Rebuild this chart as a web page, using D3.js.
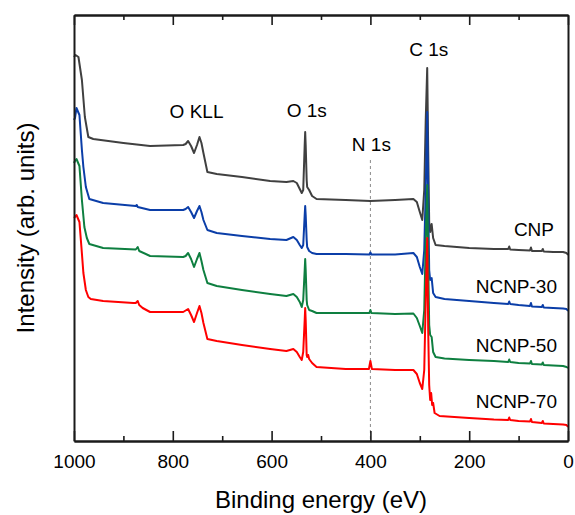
<!DOCTYPE html>
<html><head><meta charset="utf-8">
<script src="https://cdn.jsdelivr.net/npm/d3@7"></script>
<style>
body{margin:0;background:#fff}
svg{display:block}
text{font-family:"Liberation Sans",Arial,sans-serif;fill:#000}
</style>
</head><body>
<svg id="c" width="575" height="515"></svg>
<script>
// ---- data (binding energy eV, intensity arb. units) ----
const majorTicks = [1000, 800, 600, 400, 200, 0];
const minorTicks = [900, 700, 500, 300, 100];
const seriesNames = ["CNP", "NCNP-30", "NCNP-50", "NCNP-70"];
const seriesColors = ["#404040", "#0b3ea8", "#0e7f40", "#ff0000"];
const peakLabels = ["O KLL", "O 1s", "N 1s", "C 1s"];
const peakEnergies = [755, 532, 400, 285];

const cnp = [[1000,384],[997,386],[991,384],[984,361],[978,324],[971,304],[961,302],[900,298],[846,295],
[779,296],[774,297],[769,300],[763,295],[757,288],[751,296],[746,304],[742,298],[738,288],[730,269],[711,267],
[660,264],[603,260],[570,259],[556,260],[549,258],[543,252],[539,248],[536,251],[533,296],[532,309],[531,296],
[529,261],[528,254],[524,251],[518,245],[509,242],[450,241],[400,240],[350,241],[313,242],[306,239],[300,229],
[295,221],[291,251],[288,321],[285,373],[283,291],[281,219],[279,209],[276,217],[273,203],[268,196],[250,195],
[200,193],[150,192],[121,192],[119,194.5],[117,191.5],[100,191],[77,190.5],[75,193.5],[73,190],[53,190],[51,192],
[49,189.5],[30,189],[10,189],[3,188],[0,186]];

const ncnp30 = [[1000,321],[998,323],[995,333],[989,326],[984,291],[981,274],[976,254],[969,242],[941,238],[875,235],
[873,236],[871,234],[846,231],[779,231],[774,232],[769,234],[763,229],[757,223],[751,230],[746,235],[742,229],
[738,221],[730,211],[711,208],[660,205],[603,202],[570,201],[556,204],[549,201],[543,196],[539,193],[536,196],
[533,226],[532,235],[531,226],[529,201],[528,194],[524,190],[518,188],[509,187],[450,187],[402,186.5],[400,188.5],
[398,186.5],[350,186.5],[313,188],[306,184],[300,174],[295,167],[291,191],[288,251],[285,329],[283,241],[281,171],
[279,161],[276,163],[273,148],[268,144],[250,142],[200,140],[150,138],[121,137],[119,139.5],[117,137],[100,136],
[77,135],[75,138],[73,134.5],[53,134],[51,136],[49,133.5],[30,133],[10,132.5],[3,132],[0,130]];

const ncnp50 = [[1000,278],[998,280],[995,282],[989,275],[984,241],[979,214],[974,203],[969,197],[941,193],[875,191.5],
[871,194],[868,190],[846,185],[779,184],[774,185],[769,188],[763,182],[757,174],[751,182],[746,188],[742,180],
[738,171],[730,158],[711,155],[660,151],[603,147],[570,145],[556,147],[549,144],[543,139],[539,134],[536,141],
[533,171],[532,182],[531,171],[529,141],[528,136],[524,131],[518,130],[509,128],[450,128],[402,128],[400,131],
[398,128],[350,127],[313,127.5],[306,123],[300,115],[295,108],[291,131],[288,201],[285,256],[283,181],[281,116],
[279,106],[276,104],[273,89],[268,84],[250,82.5],[200,81],[150,80],[121,79],[119,81.5],[117,79],[100,78],
[77,77.5],[75,80],[73,77],[53,76.5],[51,78.5],[49,76],[30,75.5],[10,75],[3,74],[0,73]];

const ncnp70 = [[1000,223],[998,224],[995,226],[989,219],[985,194],[981,168],[976,151],[971,144],[966,142],[941,140],
[880,138],[875,138],[871,140],[868,136],[861,133],[846,129],[779,129],[774,130.5],[769,132],[763,126],[757,119],
[751,128],[746,135],[742,128],[738,118],[730,102],[711,100],[660,96],[603,92],[570,90],[556,92],[549,89],[543,84],
[539,81],[536,89],[533,121],[532,133],[531,121],[529,86],[528,84],[526,86],[524,82],[518,78],[509,74],[450,72],
[403,72],[400,80],[397,72],[350,71],[313,71],[306,67],[300,58],[295,52],[291,71],[288,141],[285,203],[283,111],
[281,56],[279,41],[277,48],[275,36],[273,38],[270,28],[260,25],[200,23],[150,21.5],[121,21],[119,23.5],[117,21],
[100,20],[77,19.5],[75,22],[73,19],[53,18],[51,20],[49,17.5],[30,17],[10,16.5],[3,16],[0,14]];

const allSeries = [cnp, ncnp30, ncnp50, ncnp70];

// ---- chart ----
const svg = d3.select("#c");
const L = 74, R = 568, T = 15, B = 441;
const x = d3.scaleLinear().domain([1000, 0]).range([L, R]);
const y = d3.scaleLinear().domain([0, 426]).range([B, T]);

// N 1s dashed guide
svg.append("line")
  .attr("x1", x(400)).attr("x2", x(400))
  .attr("y1", 160).attr("y2", B)
  .attr("stroke", "#8a8a8a").attr("stroke-width", 1)
  .attr("stroke-dasharray", "3,3");

const line = d3.line().x(d => x(d[0])).y(d => y(d[1]));
allSeries.forEach((s, i) => {
  svg.append("path").datum(s)
    .attr("d", line)
    .attr("fill", "none")
    .attr("stroke", seriesColors[i])
    .attr("stroke-width", 2)
    .attr("stroke-linejoin", "round");
});

// axes
const axisColor = "#1a1a1a";
function styleAxis(g) {
  g.selectAll("path.domain").attr("stroke", axisColor).attr("stroke-width", 2);
  g.selectAll(".tick line").attr("stroke", axisColor).attr("stroke-width", 1.6);
}
const gb = svg.append("g").attr("transform", `translate(0,${B})`)
  .call(d3.axisBottom(x).tickValues(majorTicks).tickSize(-10).tickSizeOuter(0).tickPadding(14).tickFormat(d3.format("d")));
styleAxis(gb);
gb.selectAll("text").attr("font-size", 19).attr("font-family", "Liberation Sans, Arial, sans-serif").attr("fill", "#000");
const gbm = svg.append("g").attr("transform", `translate(0,${B})`)
  .call(d3.axisBottom(x).tickValues(minorTicks).tickSize(-5).tickSizeOuter(0).tickFormat(""));
styleAxis(gbm);
const gt = svg.append("g").attr("transform", `translate(0,${T})`)
  .call(d3.axisTop(x).tickValues(majorTicks).tickSize(-10).tickSizeOuter(0).tickFormat(""));
styleAxis(gt);
const gtm = svg.append("g").attr("transform", `translate(0,${T})`)
  .call(d3.axisTop(x).tickValues(minorTicks).tickSize(-5).tickSizeOuter(0).tickFormat(""));
styleAxis(gtm);
const gl = svg.append("g").attr("transform", `translate(${L},0)`)
  .call(d3.axisLeft(y).tickValues([]).tickSizeOuter(0));
styleAxis(gl);
const gr = svg.append("g").attr("transform", `translate(${R},0)`)
  .call(d3.axisRight(y).tickValues([]).tickSizeOuter(0));
styleAxis(gr);

// axis titles
svg.append("text").attr("x", (L + R) / 2).attr("y", 508)
  .attr("text-anchor", "middle").attr("font-size", 24)
  .text("Binding energy (eV)");
svg.append("text").attr("transform", `translate(34,${(T + B) / 2}) rotate(-90)`)
  .attr("text-anchor", "middle").attr("font-size", 24)
  .text("Intensity (arb. units)");

// peak labels
const peakLabelY = [118, 117, 151, 56];
peakLabels.forEach((t, i) => {
  svg.append("text").attr("x", x(peakEnergies[i]) + (i === 2 ? 1 : 1.5)).attr("y", peakLabelY[i])
    .attr("text-anchor", "middle").attr("font-size", 19).text(t);
});

// series labels
const seriesLabelX = [554, 557, 557, 557];
const seriesLabelY = [236, 293, 352, 408];
seriesNames.forEach((t, i) => {
  svg.append("text").attr("x", seriesLabelX[i]).attr("y", seriesLabelY[i])
    .attr("text-anchor", "end").attr("font-size", 19).text(t);
});
</script>
</body></html>
